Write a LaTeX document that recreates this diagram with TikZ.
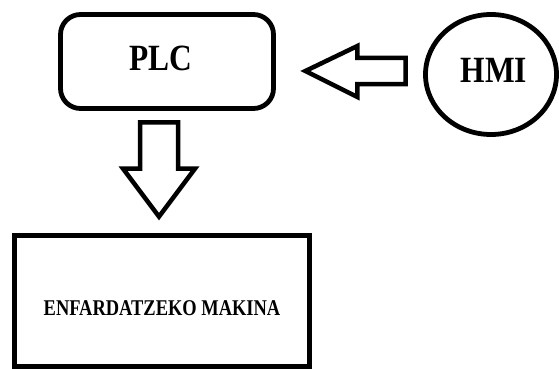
\documentclass[tikz,border=0pt]{standalone}
\usepackage{fontspec}
\setmainfont{Liberation Serif}
\usetikzlibrary{calc,shapes.geometric}

\tikzset{
  unit/.style={draw=black, line width=4.8pt, fill=white, inner sep=0pt},
  plcbox/.style={unit, rectangle, rounded corners=20pt, minimum width=213pt, minimum height=94pt},
  hmibox/.style={unit, ellipse, minimum width=131pt, minimum height=120pt},
  machbox/.style={unit, rectangle, minimum width=295pt, minimum height=131pt},
  blockarrow/.style={draw=black, line width=4.5pt, fill=white, line join=miter},
  bigtext/.style={font=\bfseries\fontsize{37}{40}\selectfont, inner sep=0pt},
  smalltext/.style={font=\bfseries\fontsize{22.5}{26}\selectfont, inner sep=0pt}
}

\begin{document}
\begin{tikzpicture}[x=1pt, y=-1pt]
  \useasboundingbox (0,0) rectangle (559,369);

  % blocks
  \node[plcbox]  (plc)  at (167,61.5) {};
  \node[hmibox]  (hmi)  at (491,74.5) {};
  \node[machbox] (mach) at (162,301)  {};

  % labels
  \node[bigtext]   (plclabel)  at ($(plc.center)+(-6,-3)$)  {\scalebox{0.85}[1]{PLC}};
  \node[bigtext]   (hmilabel)  at ($(hmi.center)+(3,-4)$)   {\scalebox{0.85}[1]{HMI}};
  \node[smalltext] (machlabel) at ($(mach.center)+(0,7)$)   {\scalebox{0.82}[1]{ENFARDATZEKO MAKINA}};

  % hollow arrow HMI -> PLC
  \coordinate (hbase) at ($(hmi.west)+(-17.5,-3.5)$);
  \coordinate (htip)  at ($(plc.east)+(29.5,9.5)$);
  \draw[blockarrow]
    ($(hbase)+(0,-13)$) -- ($(hbase)+(0,13)$)
    -- ($(htip)+(52,13)$) -- ($(htip)+(52,26)$)
    -- (htip)
    -- ($(htip)+(52,-25)$) -- ($(htip)+(52,-13)$) -- cycle;

  % hollow arrow PLC -> machine
  \coordinate (pbase) at ($(plc.south)+(-8,11.5)$);
  \coordinate (ptip)  at ($(mach.north)+(-3,-16.5)$);
  \draw[blockarrow]
    ($(pbase)+(-19,0)$) -- ($(pbase)+(19,0)$)
    -- ($(ptip)+(19,-48)$) -- ($(ptip)+(36,-48)$)
    -- (ptip)
    -- ($(ptip)+(-36,-48)$) -- ($(ptip)+(-19,-48)$) -- cycle;
\end{tikzpicture}
\end{document}
